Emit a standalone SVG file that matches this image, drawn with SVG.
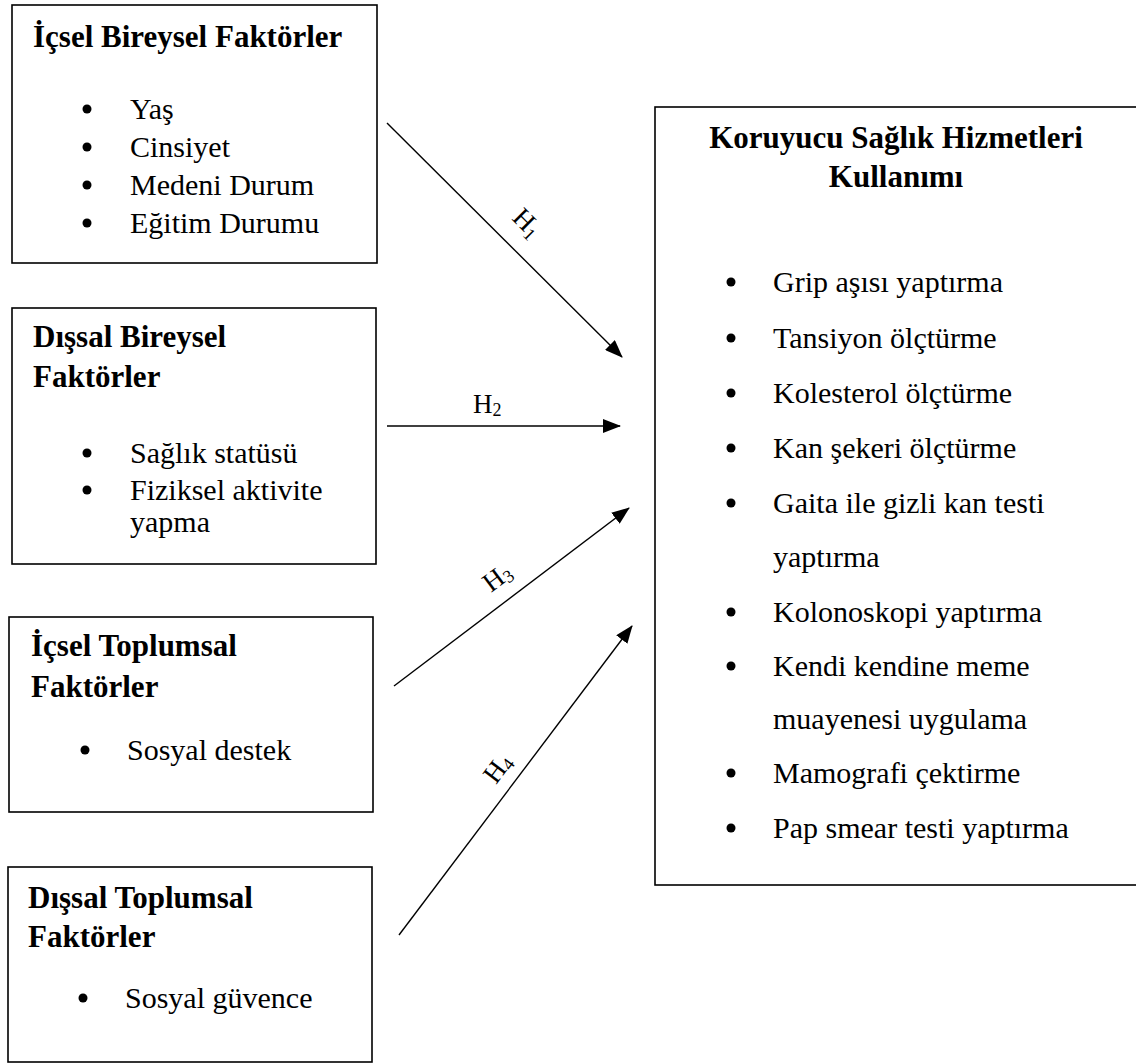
<svg xmlns="http://www.w3.org/2000/svg" width="1136" height="1064" viewBox="0 0 1136 1064">
<style>
.box{fill:#fff;stroke:#000;stroke-width:1.6}
.t{font-family:"Liberation Serif","Times New Roman",serif;font-size:30px;fill:#000}
.h{font-family:"Liberation Serif","Times New Roman",serif;font-size:31px;font-weight:bold;fill:#000}
.lbl{font-family:"Liberation Serif","Times New Roman",serif;font-size:27px;fill:#000}
.sub{font-size:18px}
.c{stroke:#000;stroke-width:1.4;fill:none}
.b{fill:#000}
</style>
<defs>
<marker id="ah" markerWidth="18" markerHeight="14" refX="17" refY="7" orient="auto" markerUnits="userSpaceOnUse">
<path d="M0,0 L18,7 L0,14 Z" fill="#000"/>
</marker>
</defs>
<rect width="1136" height="1064" fill="#fff"/>
<g id="node-icsel-bireysel">
<rect class="box" x="12" y="5" width="365" height="258"/>
<text class="h" x="33" y="47">İçsel Bireysel Faktörler</text>
<circle class="b" cx="87" cy="109" r="4.5"/><text class="t" x="130" y="119">Yaş</text>
<circle class="b" cx="87" cy="147" r="4.5"/><text class="t" x="130" y="157">Cinsiyet</text>
<circle class="b" cx="87" cy="185" r="4.5"/><text class="t" x="130" y="195">Medeni Durum</text>
<circle class="b" cx="87" cy="223" r="4.5"/><text class="t" x="130" y="233">Eğitim Durumu</text>
</g>
<g id="node-dissal-bireysel">
<rect class="box" x="12" y="308" width="364" height="256"/>
<text class="h" x="33" y="347">Dışsal Bireysel</text>
<text class="h" x="33" y="387">Faktörler</text>
<circle class="b" cx="87" cy="453" r="4.5"/><text class="t" x="130" y="463">Sağlık statüsü</text>
<circle class="b" cx="87" cy="490" r="4.5"/><text class="t" x="130" y="500">Fiziksel aktivite</text>
<text class="t" x="130" y="532">yapma</text>
</g>
<g id="node-icsel-toplumsal">
<rect class="box" x="9" y="617" width="364" height="195"/>
<text class="h" x="31" y="656">İçsel Toplumsal</text>
<text class="h" x="31" y="697">Faktörler</text>
<circle class="b" cx="85" cy="750" r="4.5"/><text class="t" x="127" y="760">Sosyal destek</text>
</g>
<g id="node-dissal-toplumsal">
<rect class="box" x="8" y="867" width="364" height="195"/>
<text class="h" x="28" y="908">Dışsal Toplumsal</text>
<text class="h" x="28" y="947">Faktörler</text>
<circle class="b" cx="83" cy="998" r="4.5"/><text class="t" x="125" y="1008">Sosyal güvence</text>
</g>
<g id="node-koruyucu">
<rect class="box" x="655" y="107" width="500" height="778"/>
<text class="h" x="896" y="148" text-anchor="middle">Koruyucu Sağlık Hizmetleri</text>
<text class="h" x="896" y="187" text-anchor="middle">Kullanımı</text>
<circle class="b" cx="731" cy="282" r="4.5"/><text class="t" x="773" y="292">Grip aşısı yaptırma</text>
<circle class="b" cx="731" cy="338" r="4.5"/><text class="t" x="773" y="348">Tansiyon ölçtürme</text>
<circle class="b" cx="731" cy="393" r="4.5"/><text class="t" x="773" y="403">Kolesterol ölçtürme</text>
<circle class="b" cx="731" cy="448" r="4.5"/><text class="t" x="773" y="458">Kan şekeri ölçtürme</text>
<circle class="b" cx="731" cy="503" r="4.5"/><text class="t" x="773" y="513">Gaita ile gizli kan testi</text>
<text class="t" x="773" y="567">yaptırma</text>
<circle class="b" cx="731" cy="612" r="4.5"/><text class="t" x="773" y="622">Kolonoskopi yaptırma</text>
<circle class="b" cx="731" cy="666" r="4.5"/><text class="t" x="773" y="676">Kendi kendine meme</text>
<text class="t" x="773" y="729">muayenesi uygulama</text>
<circle class="b" cx="731" cy="773" r="4.5"/><text class="t" x="773" y="783">Mamografi çektirme</text>
<circle class="b" cx="731" cy="828" r="4.5"/><text class="t" x="773" y="838">Pap smear testi yaptırma</text>
</g>
<g id="connectors">
<line class="c" x1="387" y1="123" x2="622" y2="357" marker-end="url(#ah)"/>
<line class="c" x1="387" y1="426" x2="620" y2="426" marker-end="url(#ah)"/>
<line class="c" x1="394" y1="686" x2="629" y2="508" marker-end="url(#ah)"/>
<line class="c" x1="399" y1="935" x2="632" y2="626" marker-end="url(#ah)"/>
<text class="lbl" transform="translate(511,219) rotate(45)">H<tspan class="sub" dy="4">1</tspan></text>
<text class="lbl" x="473" y="413">H<tspan class="sub" dy="3">2</tspan></text>
<text class="lbl" transform="translate(491,593) rotate(-36.7)">H<tspan class="sub" dy="3">3</tspan></text>
<text class="lbl" transform="translate(496,785) rotate(-53)">H<tspan class="sub" dy="3">4</tspan></text>
</g>
</svg>
